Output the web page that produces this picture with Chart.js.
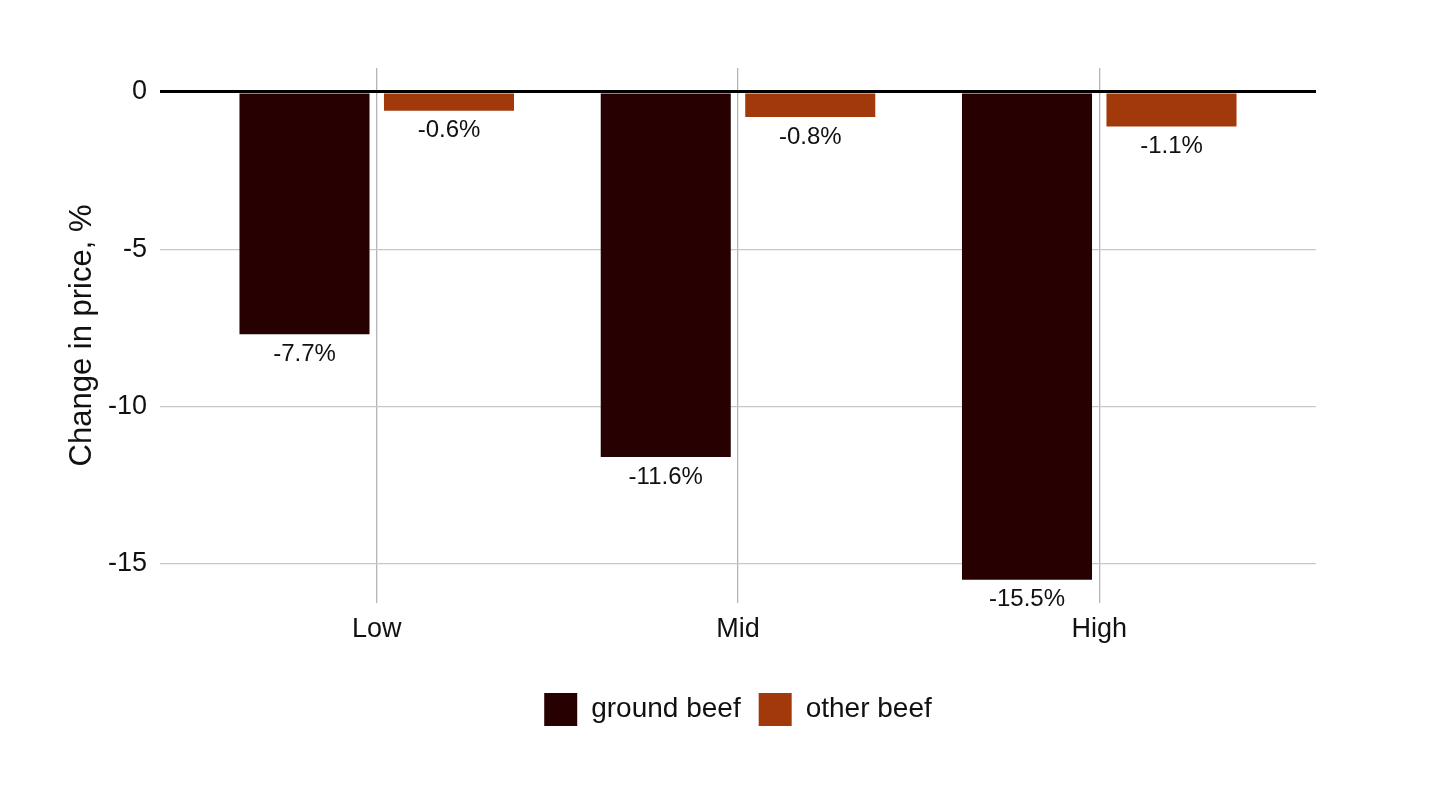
<!DOCTYPE html>
<html>
<head>
<meta charset="utf-8">
<script src="https://cdn.jsdelivr.net/npm/chart.js@4.4.1/dist/chart.umd.min.js"></script>
<style>
  html, body { margin: 0; padding: 0; background: #ffffff; }
  #wrap { width: 1440px; height: 798px; }
</style>
</head>
<body>
<div id="wrap"><canvas id="myChart"></canvas></div>
<script>
const categories = ['Low', 'Mid', 'High'];
const groundBeef = [-7.7, -11.6, -15.5];
const otherBeef = [-0.6, -0.8, -1.1];
const yTicks = [0, -5, -10, -15];

const FONT = '"Liberation Sans", Arial, sans-serif';

// etiketler barların altına
const barLabels = {
    id: 'barLabels',
    afterDatasetsDraw(chart) {
        const ctx = chart.ctx;
        ctx.save();
        ctx.font = '24px ' + FONT;
        ctx.fillStyle = '#111';
        ctx.textAlign = 'center';
        ctx.textBaseline = 'top';
        chart.data.datasets.forEach((ds, i) => {
            chart.getDatasetMeta(i).data.forEach((bar, j) => {
                ctx.fillText(ds.data[j].y.toFixed(1) + '%', bar.x, bar.y + 8);
            });
        });
        ctx.restore();
    }
};

function toPoints(values) {
    return values.map((v, i) => ({ x: i, y: v }));
}

const ctx = document.getElementById('myChart').getContext('2d');

new Chart(ctx, {
    type: 'bar',
    data: {
        datasets: [{
            label: 'ground beef',
            data: toPoints(groundBeef),
            backgroundColor: '#270101',
            categoryPercentage: 0.8,
            barPercentage: 0.9
        }, {
            label: 'other beef',
            data: toPoints(otherBeef),
            backgroundColor: '#a1390b',
            categoryPercentage: 0.8,
            barPercentage: 0.9
        }]
    },
    options: {
        responsive: true,
        maintainAspectRatio: false,
        animation: false,
        layout: {
            padding: { left: 0, right: 124, top: 68, bottom: 62 }
        },
        plugins: {
            tooltip: { enabled: false },
            legend: {
                display: true,
                position: 'bottom',
                fullSize: false,
                labels: {
                    boxWidth: 33,
                    boxHeight: 33,
                    padding: 18,
                    color: '#111',
                    font: { family: FONT, size: 28 }
                }
            }
        },
        scales: {
            x: {
                type: 'linear',
                min: -0.6,
                max: 2.6,
                offset: false,
                afterBuildTicks: (scale) => {
                    scale.ticks = categories.map((c, i) => ({ value: i }));
                },
                afterFit: (scale) => { scale.height = 72; },
                ticks: {
                    padding: 10,
                    color: '#111',
                    font: { family: FONT, size: 27 },
                    callback: (v) => categories[v]
                },
                grid: { color: '#b5b5b5', lineWidth: 1.3, drawTicks: false, offset: false },
                border: { display: false }
            },
            y: {
                min: -16.24,
                max: 0.76,
                afterBuildTicks: (scale) => {
                    scale.ticks = yTicks.map(v => ({ value: v }));
                },
                afterFit: (scale) => { scale.width = 160; },
                ticks: {
                    padding: 13,
                    color: '#111',
                    font: { family: FONT, size: 27 }
                },
                grid: {
                    drawTicks: false,
                    color: (c) => c.tick && c.tick.value === 0 ? '#000' : '#c8c8c8',
                    lineWidth: (c) => c.tick && c.tick.value === 0 ? 3 : 1.3
                },
                border: { display: false },
                title: {
                    display: true,
                    text: 'Change in price, %',
                    color: '#111',
                    font: { family: FONT, size: 31 },
                    padding: { top: 64, bottom: 0 }
                }
            }
        }
    },
    plugins: [barLabels]
});
</script>
</body>
</html>
